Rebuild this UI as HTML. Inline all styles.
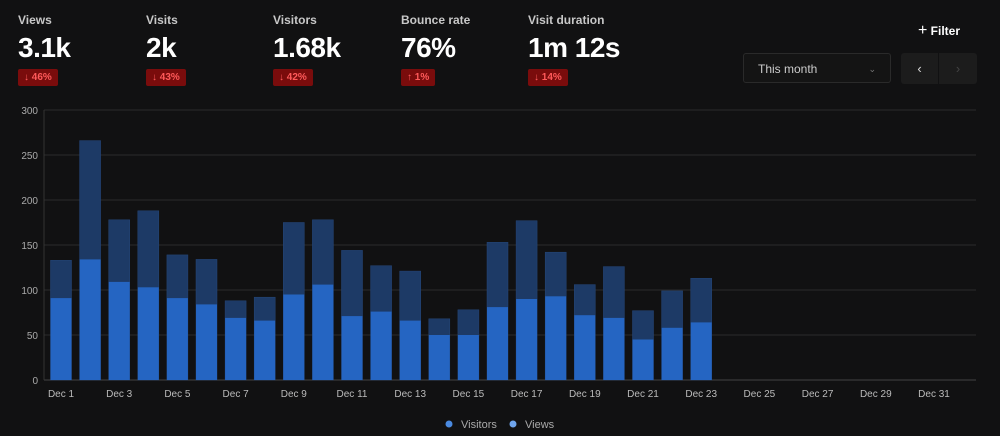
<!DOCTYPE html>
<html><head><meta charset="utf-8"><style>
body{margin:0;width:1000px;height:436px;background:#111112;font-family:"Liberation Sans",sans-serif;color:#fff;overflow:hidden;position:relative}
.stat{position:absolute;top:13px}
.lbl{font-size:12px;font-weight:bold;color:#c8c8c8}
.val{font-size:28px;font-weight:bold;margin-top:5px;letter-spacing:-0.5px}
.badge{display:inline-block;margin-top:5px;background:#7a0c0c;color:#ff5a5a;font-size:10px;font-weight:bold;padding:3px 6px;border-radius:2px}
</style></head><body>
<div class="stat" style="left:18px"><div class="lbl">Views</div><div class="val">3.1k</div><div class="badge">↓ 46%</div></div>
<div class="stat" style="left:146px"><div class="lbl">Visits</div><div class="val">2k</div><div class="badge">↓ 43%</div></div>
<div class="stat" style="left:273px"><div class="lbl">Visitors</div><div class="val">1.68k</div><div class="badge">↓ 42%</div></div>
<div class="stat" style="left:401px"><div class="lbl">Bounce rate</div><div class="val">76%</div><div class="badge">↑ 1%</div></div>
<div class="stat" style="left:528px"><div class="lbl">Visit duration</div><div class="val">1m 12s</div><div class="badge">↓ 14%</div></div>
<div style="position:absolute;left:918px;top:22px;font-size:12px;font-weight:bold"><span style="font-size:16px;font-weight:normal">+</span> Filter</div>
<div style="position:absolute;left:743px;top:53px;width:148px;height:30px;border:1px solid #2a2a2a;border-radius:3px;background:#141414;font-size:12px;color:#ccc;line-height:30px;box-sizing:border-box;padding-left:14px">This month<span style="position:absolute;right:14px;color:#777;font-size:9px">⌄</span></div>
<div style="position:absolute;left:901px;top:53px;width:37px;height:31px;background:#1c1c1c;border-radius:3px 0 0 3px;color:#ddd;text-align:center;line-height:31px;font-size:13px">‹</div>
<div style="position:absolute;left:939px;top:53px;width:38px;height:31px;background:#1c1c1c;border-radius:0 3px 3px 0;color:#444;text-align:center;line-height:31px;font-size:13px">›</div>
<svg id="chart" width="1000" height="436" style="position:absolute;left:0;top:0"></svg>
<script>
const days=[];for(let d=1;d<=31;d++)days.push('Dec '+d);
const views=[133,266,178,188,139,134,88,92,175,178,144,127,121,68,78,153,177,142,106,126,77,99,113];
const visitors=[91,134,109,103,91,84,69,66,95,106,71,76,66,50,50,81,90,93,72,69,45,58,64];
const yTicks=[0,50,100,150,200,250,300];
const svg=document.getElementById('chart');const NS='http://www.w3.org/2000/svg';
const y=v=>380-v*270/300;const x=i=>61+i*29.1;const bw=21;
function el(t,a){const e=document.createElementNS(NS,t);for(const k in a)e.setAttribute(k,a[k]);svg.appendChild(e);return e;}
yTicks.forEach(t=>{const l=el('line',{x1:44,x2:976,y1:y(t),y2:y(t),stroke:t?'#2c2c2c':'#444'});


const tx=el('text',{x:38,y:y(t)+4,'text-anchor':'end','font-size':10,fill:'#aaa','font-family':'Liberation Sans'});tx.textContent=t;

});
el('line',{x1:44,x2:44,y1:110,y2:380,stroke:'#333'});
views.forEach((v,i)=>{const r=el('rect',{x:x(i)-bw/2,y:y(v),width:bw,height:380-y(v),fill:'#1d3a66',stroke:'#26477a','stroke-width':0.5});

});
visitors.forEach((v,i)=>{const r=el('rect',{x:x(i)-bw/2,y:y(v),width:bw,height:380-y(v),fill:'#2565c2'});

});
days.forEach((d,i)=>{if(i%2)return;const t=el('text',{x:x(i),y:397,'text-anchor':'middle','font-size':10,fill:'#bbb','font-family':'Liberation Sans'});t.textContent=d;

});
[['Visitors',449,'#4a8ae0'],['Views',513,'#6fa5ec']].forEach(([n,cx,c])=>{const g=el('circle',{cx:cx,cy:424,r:3.5,fill:c});


const t=el('text',{x:cx+12,y:428,'font-size':11,fill:'#aaa','font-family':'Liberation Sans'});t.textContent=n;

});
</script>
</body></html>
